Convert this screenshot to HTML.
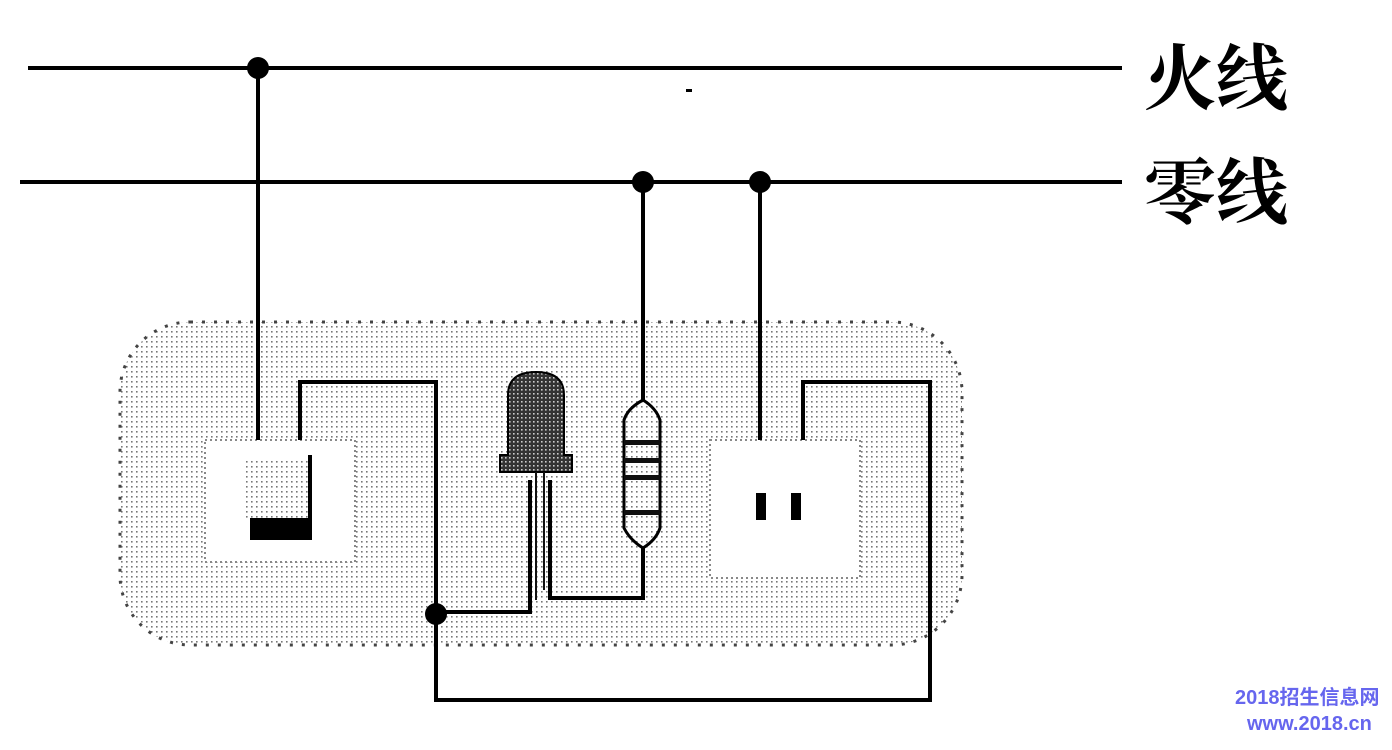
<!DOCTYPE html>
<html><head><meta charset="utf-8"><style>
html,body{margin:0;padding:0;background:#fff;width:1392px;height:750px;overflow:hidden}
</style></head><body>
<svg width="1392" height="750" xmlns="http://www.w3.org/2000/svg">
<defs>
<pattern id="dots" width="5" height="5" patternUnits="userSpaceOnUse">
<rect width="5" height="5" fill="#fff"/>
<rect x="1" y="1" width="1.6" height="1.6" fill="#777"/>
</pattern>
<pattern id="dk" width="4" height="4" patternUnits="userSpaceOnUse">
<rect width="4" height="4" fill="#333"/>
<rect x="1" y="1" width="1.6" height="1.6" fill="#ccc"/>
</pattern>
</defs>
<rect x="120" y="322" width="842" height="323" rx="70" fill="url(#dots)" stroke="#444" stroke-width="3" stroke-dasharray="3 9"/>
<rect x="205" y="440" width="150" height="122" fill="#fff" stroke="#888" stroke-width="2" stroke-dasharray="2 3"/>
<rect x="710" y="440" width="150" height="138" fill="#fff" stroke="#888" stroke-width="2" stroke-dasharray="2 3"/>
<rect x="246" y="460" width="62" height="60" fill="url(#dots)"/>
<g stroke="#000" stroke-width="4" fill="none">
<line x1="28" y1="68" x2="1122" y2="68"/>
<line x1="20" y1="182" x2="1122" y2="182"/>
<line x1="258" y1="68" x2="258" y2="440"/>
<polyline points="300,440 300,382 436,382 436,700 930,700 930,382 803,382 803,440"/>
<line x1="643" y1="182" x2="643" y2="405"/>
<polyline points="643,540 643,598 550,598 550,480"/>
<polyline points="530,480 530,612 436,612"/>
<line x1="760" y1="182" x2="760" y2="440"/>
<line x1="310" y1="455" x2="310" y2="540"/>
</g>
<path d="M508,455 L508,395 Q508,372 536,372 Q564,372 564,395 L564,455 L572,455 L572,472 L500,472 L500,455 Z" fill="url(#dk)" stroke="#000" stroke-width="2"/>
<line x1="536" y1="472" x2="536" y2="600" stroke="#111" stroke-width="2"/>
<line x1="544" y1="472" x2="544" y2="590" stroke="#111" stroke-width="2"/>
<path d="M643,400 Q628,408 624,420 L624,528 Q630,540 643,548 Q656,540 660,528 L660,420 Q656,408 643,400 Z" fill="url(#dots)" stroke="#000" stroke-width="3"/>
<rect x="624" y="440" width="36" height="5" fill="#111"/>
<rect x="624" y="458" width="36" height="5" fill="#111"/>
<rect x="624" y="475" width="36" height="5" fill="#111"/>
<rect x="624" y="510" width="36" height="5" fill="#111"/>
<rect x="250" y="518" width="62" height="22" fill="#000"/>
<rect x="756" y="493" width="10" height="27" fill="#000"/>
<rect x="791" y="493" width="10" height="27" fill="#000"/>
<circle cx="258" cy="68" r="11" fill="#000"/>
<circle cx="643" cy="182" r="11" fill="#000"/>
<circle cx="760" cy="182" r="11" fill="#000"/>
<circle cx="436" cy="614" r="11" fill="#000"/>
<rect x="686" y="89" width="6" height="3" fill="#000"/>
<text x="1144" y="104" font-family="'Liberation Serif','Noto Serif CJK SC',serif" font-size="72" font-weight="bold" fill="#000">火线</text>
<text x="1144" y="218" font-family="'Liberation Serif','Noto Serif CJK SC',serif" font-size="72" font-weight="bold" fill="#000">零线</text>
<text x="1235" y="704" font-family="'Liberation Sans','Noto Sans CJK SC',sans-serif" font-weight="bold" font-size="20" fill="#6666ee">2018招生信息网</text>
<text x="1247" y="730" font-family="'Liberation Sans','Noto Sans CJK SC',sans-serif" font-weight="bold" font-size="20" fill="#6666ee">www.2018.cn</text>
</svg>
</body></html>
